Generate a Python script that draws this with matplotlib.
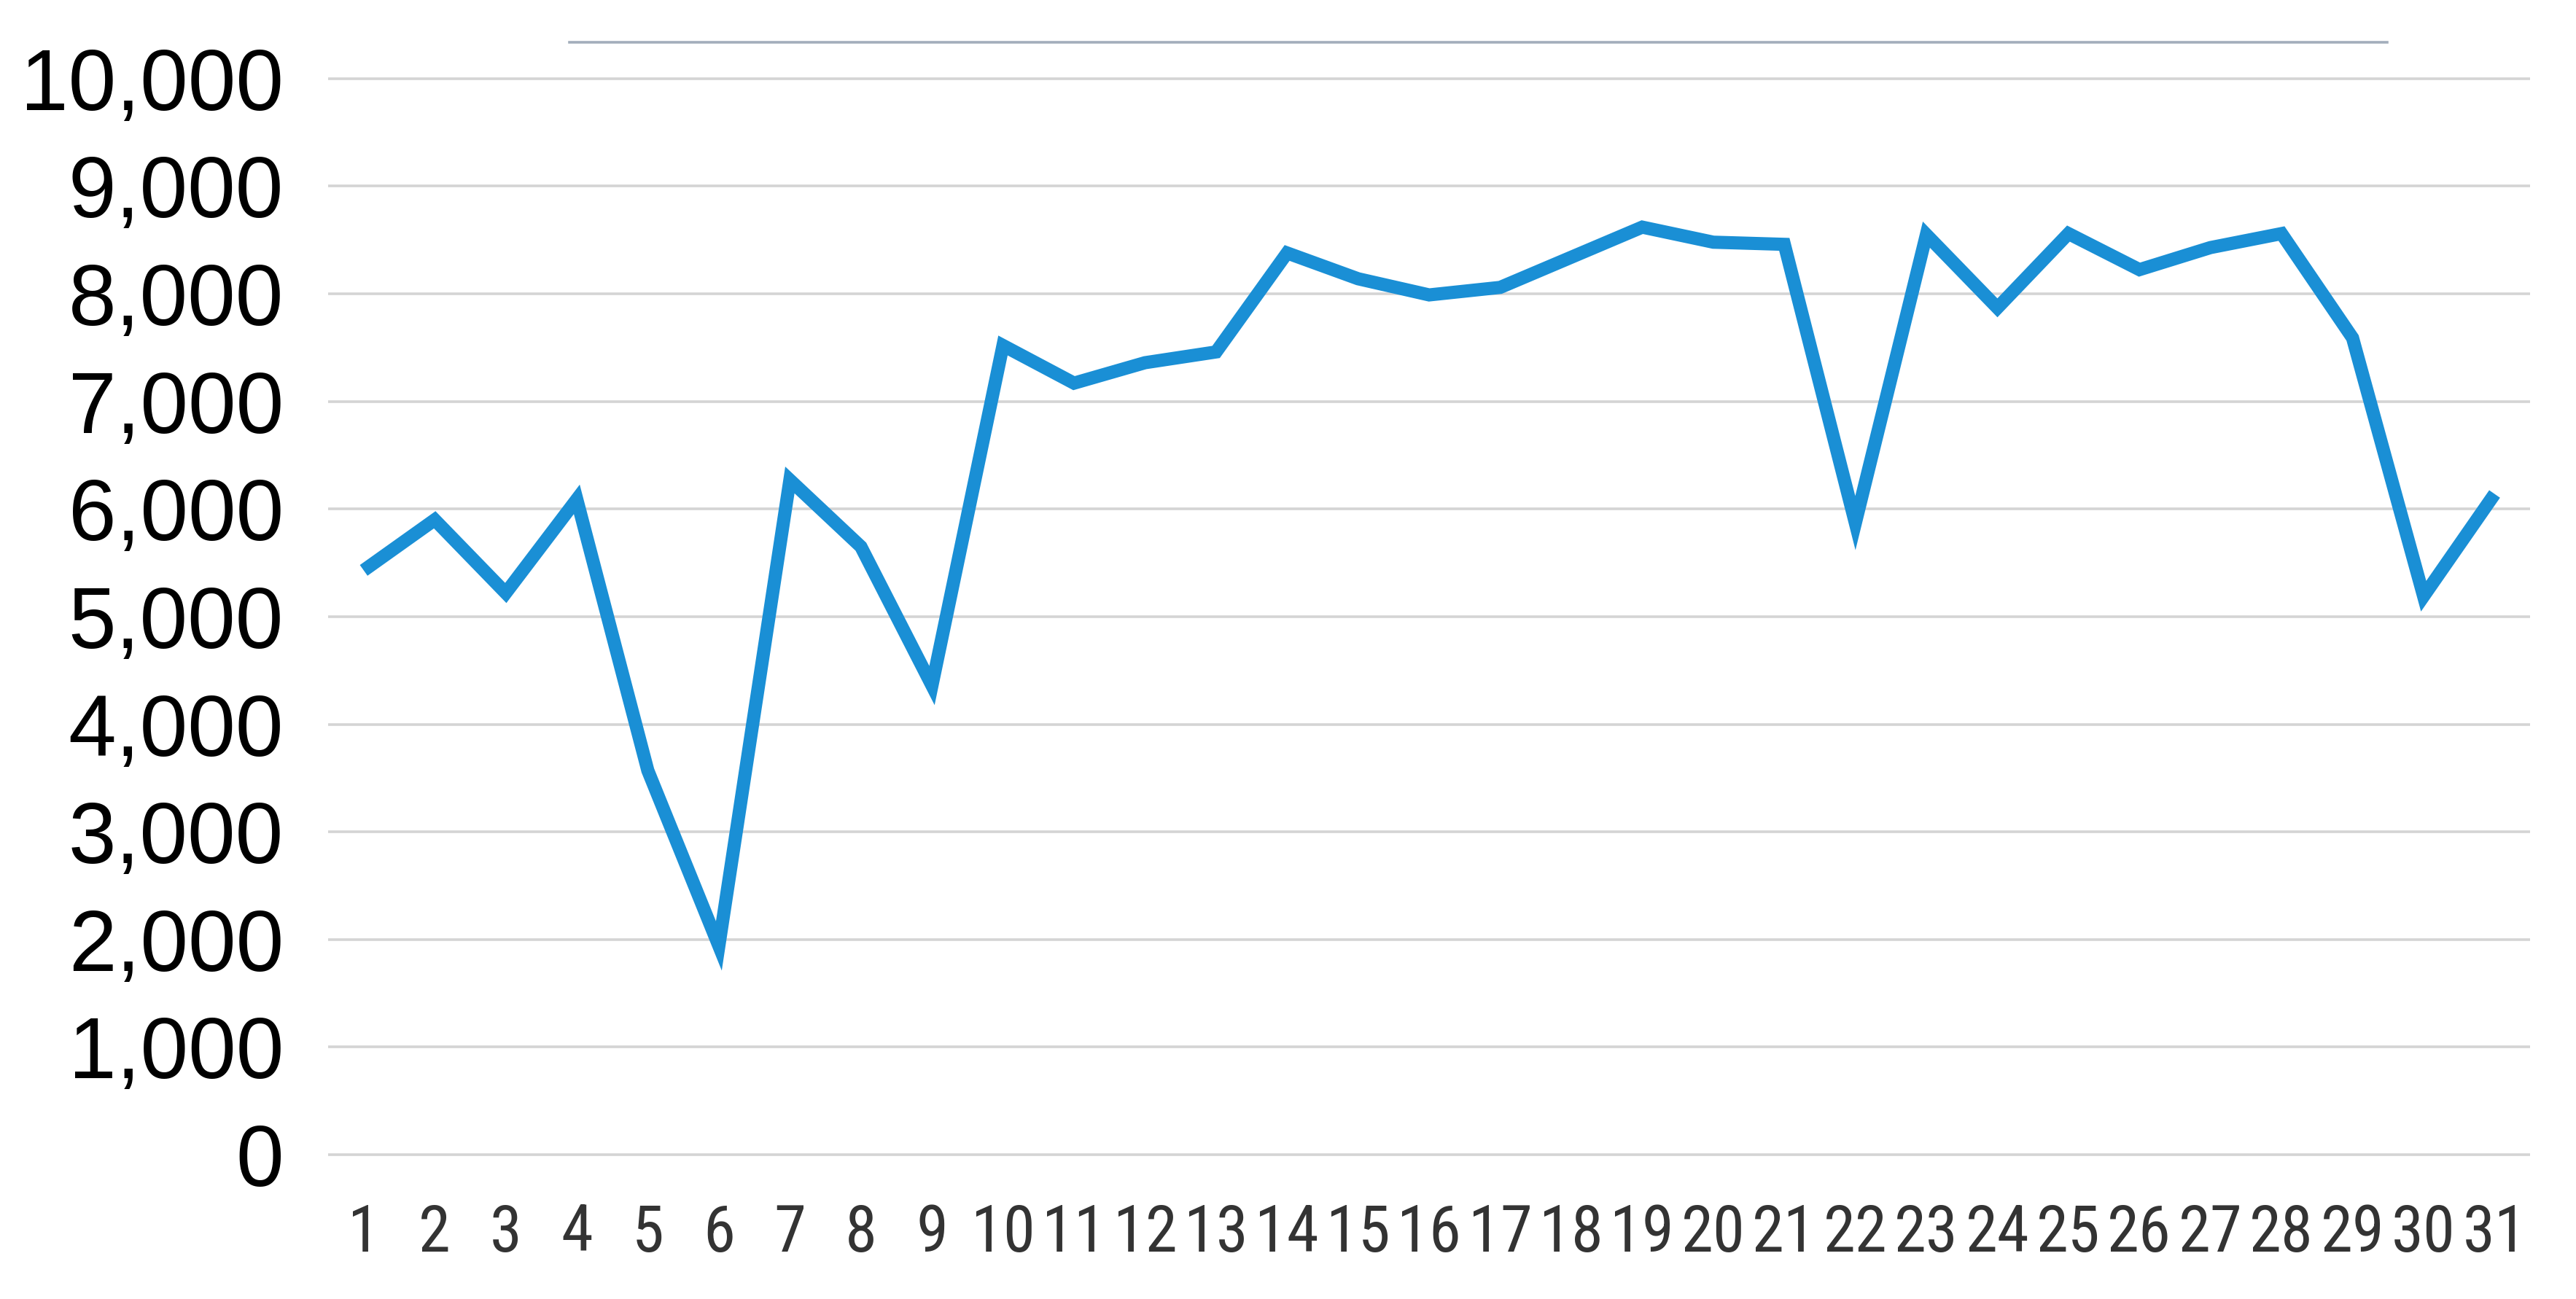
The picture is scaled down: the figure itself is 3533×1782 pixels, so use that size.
import numpy as np
from matplotlib import pyplot as plt
from matplotlib.lines import Line2D
from matplotlib.ticker import FuncFormatter

# daily values
days = np.arange(1, 32)
values = [5430, 5900, 5220, 6090, 3570, 1940, 6270, 5650, 4360, 7520,
          7170, 7360, 7460, 8380, 8140, 7990, 8060, 8340, 8620, 8480,
          8460, 5870, 8550, 7870, 8560, 8225, 8430, 8560, 7590, 5190,
          6140]
y_ticks = np.arange(0, 10001, 1000)

plt.rcParams['font.family'] = ['Liberation Sans', 'DejaVu Sans']

fig = plt.figure(figsize=(35.33, 17.82), dpi=100)
ax = fig.add_axes([0.1274, 0.1070, 0.8548, 0.8366])

ax.plot(days, values, color='#1a8fd5', linewidth=13,
        solid_joinstyle='miter', solid_capstyle='butt', zorder=3)

ax.set_xlim(0.5, 31.5)
ax.set_ylim(-50, 10050)
ax.set_yticks(y_ticks)
ax.set_xticks(days)
ax.set_xticklabels([str(d) for d in days],
                   family=['Liberation Sans Narrow', 'Roboto Condensed', 'Liberation Sans'])
ax.yaxis.set_major_formatter(FuncFormatter(lambda v, p: f'{int(v):,}'))

ax.grid(axis='y', color='#d4d4d4', linewidth=2.6)
ax.grid(axis='x', visible=False)
ax.set_axisbelow(True)
for s in ax.spines.values():
    s.set_visible(False)

ax.tick_params(axis='y', length=0, pad=44, labelsize=85, labelcolor='black')
ax.tick_params(axis='x', length=0, pad=42, labelsize=64, labelcolor='#333333')

# thin line above the plot area
fig.add_artist(Line2D([0.221, 0.9267], [0.9675, 0.9675], color='#a3aebb',
                      linewidth=2.6, transform=fig.transFigure))

fig.savefig('out.png', dpi=100, facecolor='white')
